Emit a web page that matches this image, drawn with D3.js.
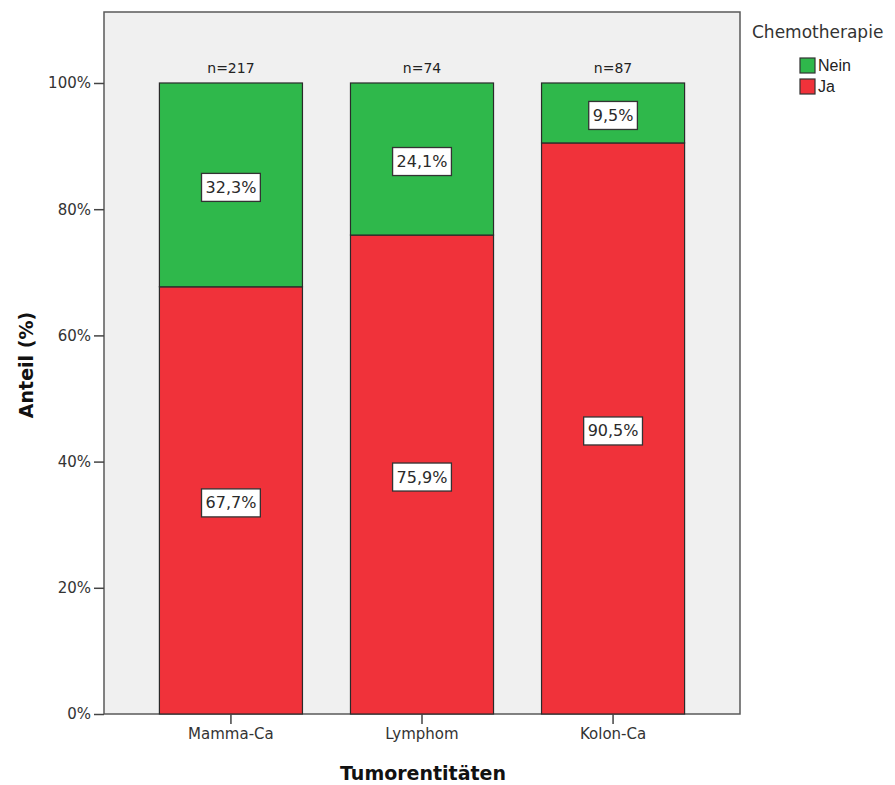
<!DOCTYPE html>
<html>
<head>
<meta charset="utf-8">
<script src="https://cdn.jsdelivr.net/npm/d3@7"></script>
<style>
  html, body { margin: 0; padding: 0; background: #fff; }
  svg { display: block; }
</style>
</head>
<body>
<svg id="chart" width="895" height="785"></svg>
<script>
// Anteil der Patienten mit / ohne Chemotherapie je Tumorentität
const categories = ["Mamma-Ca", "Lymphom", "Kolon-Ca"];
const caseCounts = [217, 74, 87];
const jaValues = [67.7, 75.9, 90.5];
const neinValues = [32.3, 24.1, 9.5];
const yTicks = [0, 20, 40, 60, 80, 100];
const seriesNames = ["Nein", "Ja"];
const seriesColors = { Nein: "#2fb84b", Ja: "#f0323a" };

const FONT = "DejaVu Sans, Verdana, sans-serif";
const svg = d3.select("#chart");
const frame = { left: 104, right: 740, top: 12, bottom: 714 };

const x = d3.scaleBand()
  .domain(categories)
  .range([frame.left, frame.right])
  .paddingInner(0.2513)
  .paddingOuter(0.29);

const y = d3.scaleLinear()
  .domain([0, 111.25])
  .range([frame.bottom, frame.top]);

// Plot background
svg.append("rect")
  .attr("x", frame.left).attr("y", frame.top)
  .attr("width", frame.right - frame.left)
  .attr("height", frame.bottom - frame.top)
  .attr("fill", "#f0f0f0")
  .attr("stroke", "#5a5a5a")
  .attr("stroke-width", 1.5);

// Stacked data: Ja at the bottom, Nein on top
const rows = categories.map((c, i) => ({ cat: c, Ja: jaValues[i], Nein: neinValues[i], n: caseCounts[i] }));
const stack = d3.stack().keys(["Ja", "Nein"]);
const layers = stack(rows);

const fmt = v => v.toFixed(1).replace(".", ",") + "%";

layers.forEach(layer => {
  const key = layer.key;
  svg.append("g").selectAll("rect")
    .data(layer)
    .join("rect")
    .attr("x", d => x(d.data.cat))
    .attr("y", d => y(d[1]))
    .attr("width", x.bandwidth())
    .attr("height", d => y(d[0]) - y(d[1]))
    .attr("fill", seriesColors[key])
    .attr("stroke", "#2a2a2a")
    .attr("stroke-width", 1.2);
});

// Value labels in white boxes
layers.forEach(layer => {
  const key = layer.key;
  const g = svg.append("g");
  layer.forEach(d => {
    const cx = x(d.data.cat) + x.bandwidth() / 2;
    const cy = (y(d[0]) + y(d[1])) / 2 + 2.5;
    const t = g.append("text")
      .attr("x", cx).attr("y", cy)
      .attr("text-anchor", "middle")
      .attr("dominant-baseline", "central")
      .attr("font-family", FONT)
      .attr("font-size", 16)
      .attr("fill", "#2a2a2a")
      .text(fmt(d.data[key]));
    const bb = t.node().getBBox();
    g.insert("rect", "text")
      .attr("x", bb.x - 4).attr("y", cy - 14)
      .attr("width", bb.width + 8).attr("height", 28)
      .attr("fill", "#fff")
      .attr("stroke", "#333")
      .attr("stroke-width", 1.3);
  });
});

// n= labels above bars
svg.append("g").selectAll("text")
  .data(rows)
  .join("text")
  .attr("x", d => x(d.cat) + x.bandwidth() / 2)
  .attr("y", y(100) - 10)
  .attr("text-anchor", "middle")
  .attr("font-family", FONT)
  .attr("font-size", 14)
  .attr("fill", "#222")
  .text(d => "n=" + d.n);

// Axes
const yAxis = d3.axisLeft(y)
  .tickValues(yTicks)
  .tickFormat(d => d + "%")
  .tickSize(10)
  .tickPadding(3);
const gy = svg.append("g")
  .attr("transform", `translate(${frame.left},0)`)
  .call(yAxis);
gy.select(".domain").remove();
gy.selectAll("line").attr("stroke", "#444").attr("stroke-width", 1.5);
gy.selectAll("text")
  .attr("font-family", FONT)
  .attr("font-size", 15)
  .attr("fill", "#333");

const xAxis = d3.axisBottom(x).tickSize(10).tickPadding(4);
const gx = svg.append("g")
  .attr("transform", `translate(0,${frame.bottom})`)
  .call(xAxis);
gx.select(".domain").remove();
gx.selectAll("line").attr("stroke", "#444").attr("stroke-width", 1.5);
gx.selectAll("text")
  .attr("font-family", FONT)
  .attr("font-size", 15)
  .attr("fill", "#333");

// Axis titles
svg.append("text")
  .attr("x", 423)
  .attr("y", 780)
  .attr("text-anchor", "middle")
  .attr("font-family", FONT)
  .attr("font-weight", "bold")
  .attr("font-size", 19)
  .attr("fill", "#111")
  .text("Tumorentitäten");

svg.append("text")
  .attr("transform", `translate(33,365) rotate(-90)`)
  .attr("text-anchor", "middle")
  .attr("font-family", FONT)
  .attr("font-weight", "bold")
  .attr("font-size", 19)
  .attr("fill", "#111")
  .text("Anteil (%)");

// Legend
const legend = svg.append("g");
legend.append("text")
  .attr("x", 752).attr("y", 38)
  .attr("font-family", FONT)
  .attr("font-size", 17)
  .attr("fill", "#333")
  .text("Chemotherapie");
seriesNames.forEach((name, i) => {
  const yy = 58 + i * 21;
  legend.append("rect")
    .attr("x", 800).attr("y", yy)
    .attr("width", 15).attr("height", 15)
    .attr("fill", seriesColors[name])
    .attr("stroke", "#333")
    .attr("stroke-width", 1.2);
  legend.append("text")
    .attr("x", 818).attr("y", yy + 13)
    .attr("font-family", "Liberation Sans, Arial, sans-serif")
    .attr("font-size", 16)
    .attr("fill", "#222")
    .text(name);
});
</script>
</body>
</html>
